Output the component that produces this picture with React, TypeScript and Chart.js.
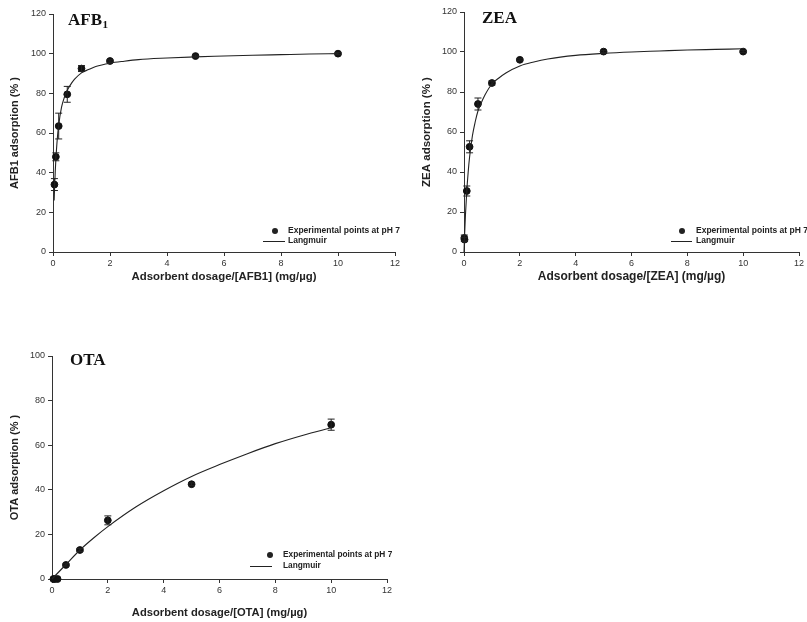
import { useEffect, useRef } from "react";
import { Chart, registerables } from "chart.js";
Chart.register(...registerables);

// ---- AFB1 ----
const afbX = [0.05, 0.1, 0.2, 0.5, 1, 2, 5, 10];
const afbY = [34, 48, 63.5, 79.5, 92.5, 96.3, 98.8, 100];
const afbErr = [3, 2, 6.5, 4, 1.5, 0.6, 0.5, 0.5];
const afbCurveX = [0.04, 0.06, 0.08, 0.1, 0.15, 0.2, 0.3, 0.4, 0.5, 0.6, 0.75, 1, 1.25, 1.5, 2, 2.5, 3, 4, 5, 6, 7, 8, 9, 10];
const afbCurveY = [26, 34, 41, 46.5, 57, 64, 73, 78, 81.5, 84, 87, 90.3, 92, 93.5, 95.2, 96.2, 97, 97.8, 98.4, 98.8, 99.2, 99.5, 99.8, 100];

// ---- ZEA ----
const zeaX = [0.01, 0.02, 0.1, 0.2, 0.5, 1, 2, 5, 10];
const zeaY = [7, 6.2, 30.5, 52.6, 74, 84.5, 96.1, 100.2, 100.2];
const zeaErr = [1.5, 1, 2.5, 3, 3, 1, 0.5, 0.5, 0.5];
const zeaCurveX = [0, 0.01, 0.02, 0.05, 0.1, 0.15, 0.2, 0.3, 0.4, 0.5, 0.6, 0.75, 1, 1.25, 1.5, 2, 2.5, 3, 4, 5, 6, 7, 8, 9, 10];
const zeaCurveY = [0, 4, 8, 18, 30.5, 40, 47.5, 58, 65, 70.5, 74, 78.5, 84, 87, 89.5, 93, 95, 96.5, 98.3, 99.3, 100, 100.5, 101, 101.3, 101.6];

// ---- OTA ----
const otaX = [0.05, 0.1, 0.2, 0.5, 1, 2, 5, 10];
const otaY = [0, 0, 0, 6.3, 13, 26.3, 42.5, 69.2];
const otaErr = [0, 0, 0, 0.5, 0.7, 2, 0.6, 2.5];
const otaCurveX = [0, 0.5, 1, 1.5, 2, 3, 4, 5, 6, 7, 8, 9, 10];
const otaCurveY = [0, 6.5, 13, 18.5, 23.5, 32.3, 39.6, 46, 51.3, 56.2, 60.7, 64.5, 67.8];

const xTicks = [0, 2, 4, 6, 8, 10, 12];
const legendPoints = "Experimental points at pH 7";
const legendLine = "Langmuir";

type Cfg = {
  left: number; top: number; w: number; h: number;
  padTop: number; padRight: number; yWidth: number; xHeight: number;
  yMax: number; titleMain: string; titleSub: string;
  titleX: number; titleY: number;
  yTitle: string; xTitle: string; yFont: number; xFont: number;
  yTitlePad: number; xTitlePad: number;
  px: number[]; py: number[]; pe: number[]; cx: number[]; cy: number[];
  legDotX: number; legRow1: number; legRow2: number; legLineX1: number; legLineX2: number; legTextX: number;
  legFont: number;
};

const SANS = "'Liberation Sans', Arial, sans-serif";
const SERIF = "'Liberation Serif', 'Times New Roman', serif";
const INK = "#222";

const panels: Cfg[] = [
  {
    left: 0, top: 0, w: 405, h: 290, padTop: 14, padRight: 10, yWidth: 53, xHeight: 38,
    yMax: 120, titleMain: "AFB", titleSub: "1", titleX: 68, titleY: 25,
    yTitle: "AFB1 adsorption (% )", xTitle: "Adsorbent dosage/[AFB1] (mg/\u00b5g)", yFont: 11, xFont: 11.4,
    yTitlePad: 8.4, xTitlePad: 6.2,
    px: afbX, py: afbY, pe: afbErr, cx: afbCurveX, cy: afbCurveY,
    legDotX: 275, legRow1: 231, legRow2: 241, legLineX1: 263, legLineX2: 285, legTextX: 288, legFont: 8.5,
  },
  {
    left: 400, top: 0, w: 407, h: 290, padTop: 12, padRight: 8, yWidth: 64, xHeight: 38,
    yMax: 120, titleMain: "ZEA", titleSub: "", titleX: 82, titleY: 23,
    yTitle: "ZEA adsorption (% )", xTitle: "Adsorbent dosage/[ZEA] (mg/\u00b5g)", yFont: 11.5, xFont: 12,
    yTitlePad: 19.8, xTitlePad: 5.8,
    px: zeaX, py: zeaY, pe: zeaErr, cx: zeaCurveX, cy: zeaCurveY,
    legDotX: 282, legRow1: 231, legRow2: 241, legLineX1: 271, legLineX2: 292, legTextX: 296, legFont: 8.5,
  },
  {
    left: 0, top: 330, w: 400, h: 292, padTop: 26, padRight: 13, yWidth: 52, xHeight: 43,
    yMax: 100, titleMain: "OTA", titleSub: "", titleX: 70, titleY: 35,
    yTitle: "OTA adsorption (% )", xTitle: "Adsorbent dosage/[OTA] (mg/\u00b5g)", yFont: 11, xFont: 11.2,
    yTitlePad: 8.4, xTitlePad: 2.6,
    px: otaX, py: otaY, pe: otaErr, cx: otaCurveX, cy: otaCurveY,
    legDotX: 270, legRow1: 225, legRow2: 236, legLineX1: 250, legLineX2: 272, legTextX: 283, legFont: 8.3,
  },
];

function Panel({ cfg }: { cfg: Cfg }) {
  const ref = useRef<HTMLCanvasElement>(null);
  useEffect(() => {
    const canvas = ref.current;
    if (!canvas) return;

    const errorBars = {
      id: "errorBars",
      afterDatasetsDraw(chart: any) {
        const { ctx, scales } = chart;
        const xs = scales.x, ys = scales.y;
        ctx.save();
        ctx.strokeStyle = INK;
        ctx.lineWidth = 1;
        cfg.px.forEach((xv, i) => {
          const e = cfg.pe[i];
          if (!e) return;
          const X = xs.getPixelForValue(xv);
          const t = ys.getPixelForValue(cfg.py[i] + e);
          const b = ys.getPixelForValue(cfg.py[i] - e);
          ctx.beginPath();
          ctx.moveTo(X, t); ctx.lineTo(X, b);
          ctx.moveTo(X - 3.5, t); ctx.lineTo(X + 3.5, t);
          ctx.moveTo(X - 3.5, b); ctx.lineTo(X + 3.5, b);
          ctx.stroke();
        });
        ctx.restore();
      },
    };

    const decor = {
      id: "decor",
      afterDraw(chart: any) {
        const { ctx } = chart;
        ctx.save();
        ctx.fillStyle = "#111";
        ctx.textBaseline = "alphabetic";
        ctx.textAlign = "left";
        ctx.font = `bold 17px ${SERIF}`;
        ctx.fillText(cfg.titleMain, cfg.titleX, cfg.titleY);
        if (cfg.titleSub) {
          const w = ctx.measureText(cfg.titleMain).width;
          ctx.font = `bold 11px ${SERIF}`;
          ctx.fillText(cfg.titleSub, cfg.titleX + w + 0.5, cfg.titleY + 3);
        }
        ctx.fillStyle = INK;
        ctx.beginPath();
        ctx.arc(cfg.legDotX, cfg.legRow1, 3, 0, Math.PI * 2);
        ctx.fill();
        ctx.strokeStyle = INK;
        ctx.lineWidth = 1;
        ctx.beginPath();
        ctx.moveTo(cfg.legLineX1, cfg.legRow2 + 0.5);
        ctx.lineTo(cfg.legLineX2, cfg.legRow2 + 0.5);
        ctx.stroke();
        ctx.font = `bold ${cfg.legFont}px ${SANS}`;
        ctx.textBaseline = "middle";
        ctx.fillText(legendPoints, cfg.legTextX, cfg.legRow1);
        ctx.fillText(legendLine, cfg.legTextX, cfg.legRow2);
        ctx.restore();
      },
    };

    const tickFont = { family: SANS, size: 9 };
    const chart = new Chart(canvas, {
      type: "scatter",
      data: {
        datasets: [
          {
            type: "line",
            data: cfg.cx.map((x, i) => ({ x, y: cfg.cy[i] })),
            borderColor: INK,
            borderWidth: 1.1,
            pointRadius: 0,
            fill: false,
            cubicInterpolationMode: "monotone",
            clip: false,
          } as any,
          {
            type: "scatter",
            data: cfg.px.map((x, i) => ({ x, y: cfg.py[i] })),
            backgroundColor: "#111",
            borderColor: "#111",
            pointRadius: 3.4,
            pointHoverRadius: 3.4,
            clip: false,
          } as any,
        ],
      },
      options: {
        animation: false,
        responsive: false,
        events: [],
        layout: { padding: { left: 0, top: cfg.padTop, right: cfg.padRight, bottom: 0 } },
        plugins: { legend: { display: false }, tooltip: { enabled: false }, title: { display: false } },
        scales: {
          x: {
            type: "linear",
            min: 0,
            max: 12,
            afterBuildTicks: (s: any) => { s.ticks = xTicks.map((v) => ({ value: v })); },
            afterFit: (s: any) => { s.height = cfg.xHeight; },
            ticks: { font: tickFont, color: "#333", padding: 2, maxRotation: 0 },
            grid: { drawOnChartArea: false, drawTicks: true, tickLength: 4, color: "#333" },
            border: { display: true, color: "#333", width: 1 },
            title: {
              display: true, text: cfg.xTitle, color: "#222",
              font: { family: SANS, size: cfg.xFont, weight: "bold" },
              padding: { top: 0, bottom: cfg.xTitlePad },
            },
          },
          y: {
            type: "linear",
            min: 0,
            max: cfg.yMax,
            ticks: { stepSize: 20, font: tickFont, color: "#333", padding: 3 },
            afterFit: (s: any) => { s.width = cfg.yWidth; },
            grid: { drawOnChartArea: false, drawTicks: true, tickLength: 4, color: "#333" },
            border: { display: true, color: "#333", width: 1 },
            title: {
              display: true, text: cfg.yTitle, color: "#222",
              font: { family: SANS, size: cfg.yFont, weight: "bold" },
              padding: { top: cfg.yTitlePad, bottom: 0 },
            },
          },
        },
      } as any,
      plugins: [errorBars, decor],
    });
    return () => chart.destroy();
  }, [cfg]);
  return (
    <canvas
      ref={ref}
      width={cfg.w}
      height={cfg.h}
      style={{ position: "absolute", left: cfg.left, top: cfg.top, width: cfg.w, height: cfg.h }}
    />
  );
}

export default function App() {
  return (
    <div style={{ position: "fixed", left: 0, top: 0, width: 807, height: 622, background: "#fff", overflow: "hidden" }}>
      {panels.map((p, i) => (
        <Panel key={i} cfg={p} />
      ))}
    </div>
  );
}
